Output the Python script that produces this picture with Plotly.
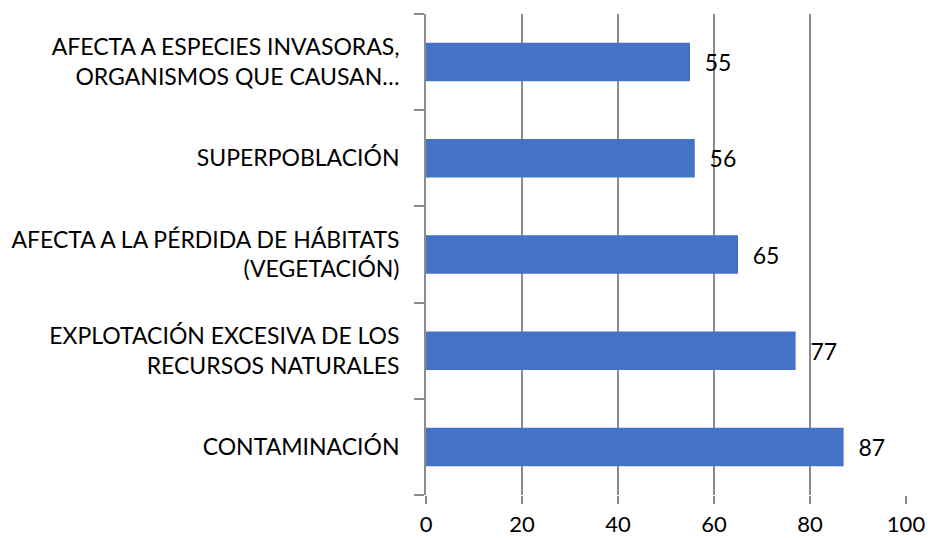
import plotly.graph_objects as go

# categories listed bottom -> top
causas = [
    'CONTAMINACIÓN',
    'EXPLOTACIÓN EXCESIVA DE LOS<br>RECURSOS NATURALES',
    'AFECTA A LA PÉRDIDA DE HÁBITATS<br>(VEGETACIÓN)',
    'SUPERPOBLACIÓN',
    'AFECTA A ESPECIES INVASORAS,<br>ORGANISMOS QUE CAUSAN…',
]
valores = [87, 77, 65, 56, 55]
x_ticks = [0, 20, 40, 60, 80, 100]

GRID = '#8c8c8c'
FONT = 'Lato'

fig = go.Figure(
    go.Bar(
        x=valores,
        y=causas,
        orientation='h',
        marker_color='#4472C4',
        marker_line_width=0,
        text=valores,
        texttemplate='\u00a0\u00a0%{x}',
        textposition='outside',
        textfont=dict(size=23, color='#000000', family=FONT),
        cliponaxis=False,
    )
)

fig.update_layout(
    width=928,
    height=538,
    margin=dict(l=426, r=22, t=14, b=43),
    plot_bgcolor='white',
    paper_bgcolor='white',
    font=dict(family=FONT, size=23, color='#000000'),
    bargap=0.6,
    showlegend=False,
)

fig.update_xaxes(
    range=[0, 100],
    tickvals=x_ticks,
    tickfont_size=22,
    automargin=False,
    showgrid=True,
    gridcolor=GRID,
    gridwidth=1.8,
    zeroline=False,
    showline=False,
    ticks='outside',
    ticklen=8,
    tickcolor=GRID,
    tickwidth=1.8,
    ticklabelstandoff=2,
)

fig.update_yaxes(
    automargin=False,
    showline=True,
    linecolor=GRID,
    linewidth=1.8,
    showgrid=False,
    ticks='outside',
    tickson='boundaries',
    ticklen=10,
    tickcolor=GRID,
    tickwidth=1.8,
    ticklabelstandoff=20,
)

# drop the default page margin so the figure fills the window exactly
fig.write_html(
    "out.html",
    config={'displayModeBar': False},
    post_script="document.body.style.margin='0';document.body.style.overflow='hidden';",
)
